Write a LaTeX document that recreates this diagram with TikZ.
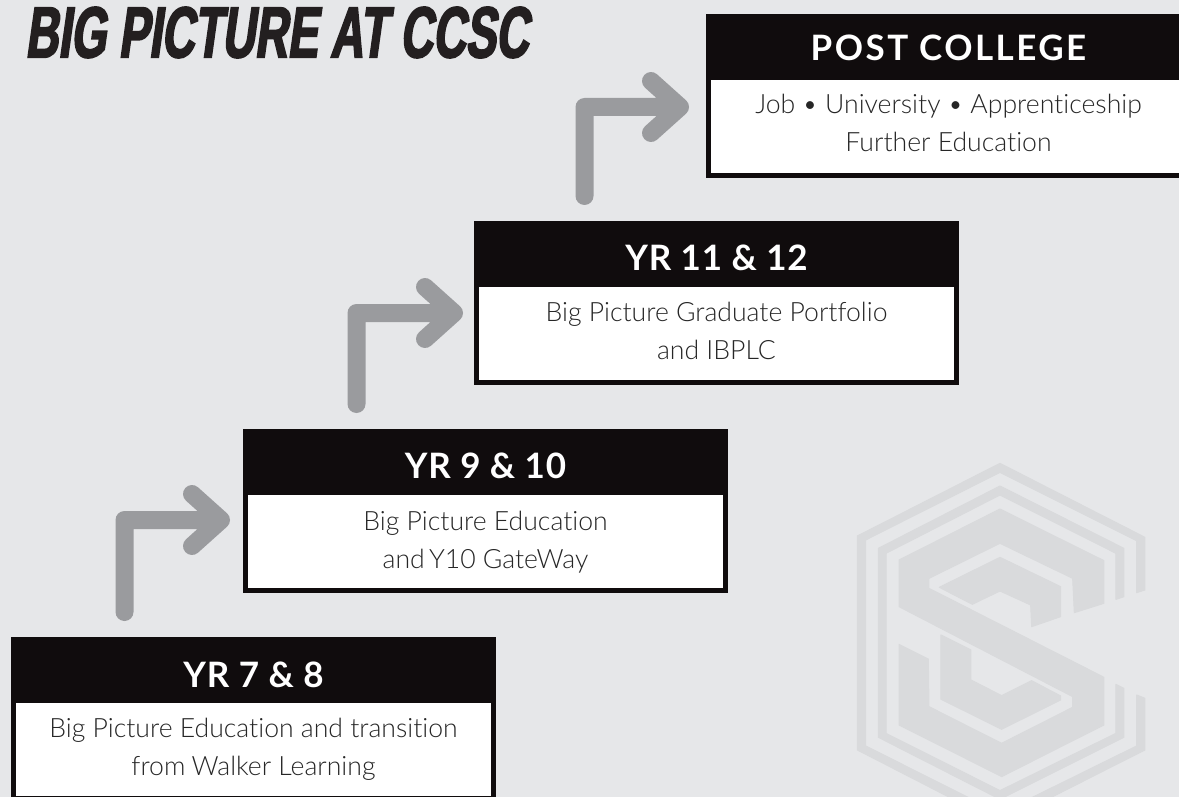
\documentclass[tikz,border=0pt]{standalone}
\usepackage{fontspec}
\setmainfont{Lato}
\newfontfamily\bodyfont{Lato Light}[Ligatures=NoCommon]
\newfontfamily\headfont{Lato}[UprightFont=* Bold,LetterSpace=2.5]
\newfontfamily\headwidefont{Lato}[UprightFont=* Bold,LetterSpace=7]
\newfontfamily\titlefont{Liberation Sans}[UprightFont=* Bold,FakeStretch=0.63,FakeSlant=0.14,FakeBold=2.5]
\definecolor{bgc}{HTML}{E6E7E9}
\definecolor{logoc}{HTML}{D9DADC}
\definecolor{arrowc}{HTML}{9A9B9E}
\definecolor{boxc}{HTML}{100C0D}
\definecolor{titlec}{HTML}{231F20}
\tikzset{
  headbox/.style={anchor=north west,minimum width=485pt,minimum height=66pt,inner sep=0pt,outer sep=0pt,fill=boxc,text=white,text depth=0pt,font=\headfont\fontsize{35}{40}\selectfont},
  bodybox/.style={anchor=north,minimum width=480pt,minimum height=98pt,inner sep=0pt,outer sep=0pt,fill=white,draw=boxc,line width=5pt,text=black!85,align=center,text depth=0pt,font=\bodyfont\fontsize{26.6}{37.5}\selectfont},
  stepline/.style={draw=arrowc,line width=18pt,line cap=round,line join=round},
  logopart/.style={fill=logoc,draw=logoc,line width=1pt,line join=round}
}
\begin{document}
\begin{tikzpicture}[x=1pt,y=-1pt]
\useasboundingbox (0,0) rectangle (1179,797);
\clip (0,0) rectangle (1179,797);
\fill[bgc] (0,0) rectangle (1179,797);
% logo
\begin{scope}[shift={(840,450)},x=0.3333pt,y=-0.3333pt]
\path[logopart] (480,40)--(915,262)--(915,420)--(890,428)--(890,272)--(480,67)--(77,270)--(77,888)--(480,1090)--(890,888)--(890,735)--(915,745)--(915,900)--(480,1120)--(52,900)--(52,258)--cycle;
\path[logopart] (480,108)--(852,295)--(852,440)--(828,448)--(828,310)--(480,135)--(138,310)--(138,850)--(480,1022)--(828,850)--(828,703)--(852,715)--(852,862)--(480,1048)--(115,862)--(115,295)--cycle;
\path[logopart] (480,177)--(792,332)--(792,460)--(703,488)--(698,385)--(480,280)--(267,385)--(267,415)--(792,682)--(792,825)--(485,980)--(177,825)--(177,583)--(265,627)--(267,770)--(485,880)--(698,772)--(698,740)--(177,470)--(177,330)--cycle;
\path[logopart] (480,322)--(662,410)--(662,500)--(575,530)--(572,465)--(480,423)--(397,463)--(298,412)--cycle;
\path[logopart] (303,555)--(393,600)--(393,690)--(485,737)--(575,692)--(662,738)--(662,750)--(485,838)--(303,748)--cycle;
\end{scope}
% title
\node[anchor=west,inner sep=0pt,text=titlec,font=\titlefont\fontsize{72}{72}\selectfont] (title) at (25,32.5) {BIG PICTURE AT CCSC};
% boxes
\node[headbox,text height=35pt] (h1) at (11,637) {YR 7 \& 8};
\node[bodybox,text height=51pt] (b1) at ([yshift=2.5pt]h1.south) {Big Picture Education and transition\\from\kern-1pt\ Walker Learning};
\node[headbox,text height=33pt] (h2) at (243,429) {YR 9 \& 10};
\node[bodybox,text height=53pt] (b2) at ([yshift=2.5pt]h2.south) {Big Picture Education\\and\kern-3pt\ Y10 GateWay};
\node[headbox,text height=32pt] (h3) at (474,221) {YR 11 \& 12};
\node[bodybox,text height=51pt] (b3) at ([yshift=2.5pt]h3.south) {Big Picture Graduate Portfolio\\and IBPLC};
\node[headbox,text height=28pt,font=\headwidefont\fontsize{35}{40}\selectfont] (h4) at (706,14) {POST COLLEGE};
\node[bodybox,text height=50pt] (b4) at ([yshift=2.5pt]h4.south) {Job • University • Apprenticeship\\Further Education};
% arrows: start just above lower box, tip just left of upper box
\foreach \lo/\up/\sx/\tx/\ty in {h1/b2/113.5/-24.5/-27.5,h2/b3/113.5/-22.5/-28.5,h3/b4/110.5/-28.5/-29.5}{
  \coordinate (s) at ([shift={(\sx pt,25pt)}]\lo.north west);
  \coordinate (t) at ([shift={(\tx pt,\ty pt)}]\up.north west);
  \path[stepline] (s) |- (t) ++(-29,-26) -- (t) -- ++(-29,26);
}
\end{tikzpicture}
\end{document}
